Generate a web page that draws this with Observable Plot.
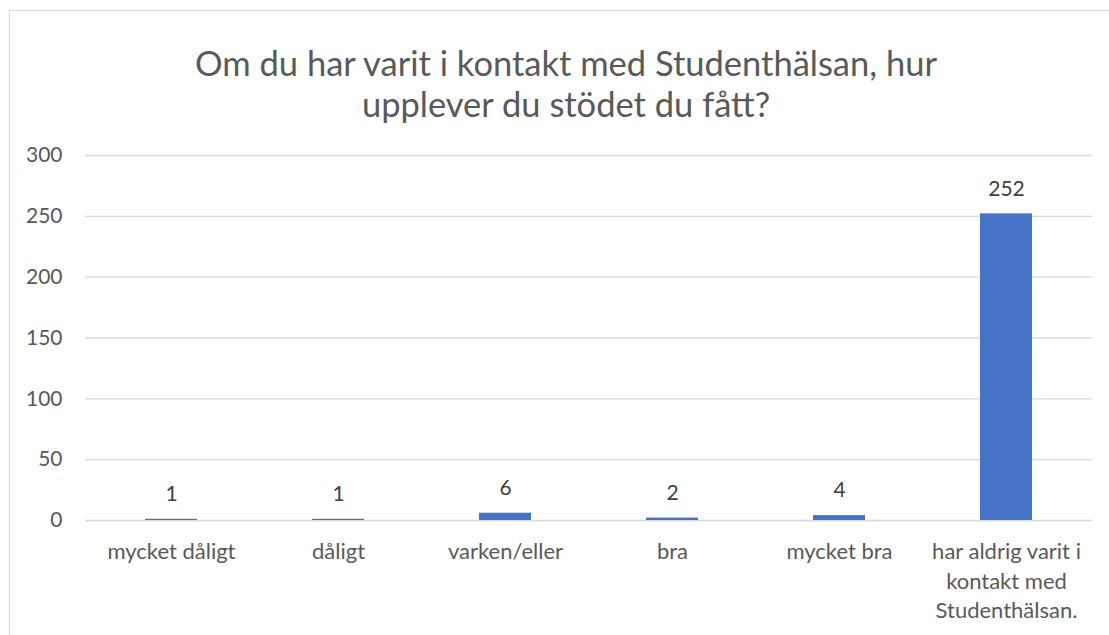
<!DOCTYPE html>
<html><head><meta charset="utf-8">
<script src="https://cdn.jsdelivr.net/npm/d3@7"></script>
<script src="https://cdn.jsdelivr.net/npm/@observablehq/plot@0.6"></script>
<style>
body{margin:0;background:#fff;font-family:Lato,"Open Sans",sans-serif;overflow:hidden;width:1109px;height:635px;position:relative;}
#frame{position:absolute;left:9px;top:10px;width:1200px;height:700px;border-left:1.5px solid #d9d9d9;border-top:1.5px solid #d9d9d9;}
#title{position:absolute;left:0;top:42px;width:1132px;text-align:center;color:#595959;font-size:34.5px;line-height:41px;}
#chart{position:absolute;left:0;top:130px;}
</style></head>
<body>
<div id="frame"></div>
<div id="title">Om du har varit i kontakt med Studenthälsan, hur<br>upplever du stödet du fått?</div>
<div id="chart"></div>
<script>
const categories = ["mycket dåligt","dåligt","varken/eller","bra","mycket bra","har aldrig varit i kontakt med Studenthälsan."];
const tickLabels = ["mycket dåligt","dåligt","varken/eller","bra","mycket bra","har aldrig varit i\nkontakt med\nStudenthälsan."];
const counts = [1,1,6,2,4,252];
const yTicks = [0,50,100,150,200,250,300];
const data = categories.map((c,i)=>({category:c,count:counts[i]}));
const chart = Plot.plot({
  width:1109, height:500, marginLeft:85, marginRight:17, marginTop:25, marginBottom:110,
  style:{fontFamily:"Lato, 'Open Sans', sans-serif", fontSize:"21px", color:"#595959", background:"transparent", overflow:"visible"},
  x:{domain:categories, paddingInner:0.686, paddingOuter:0.343, label:null},
  y:{domain:[0,300], label:null},
  marks:[
    Plot.gridY(yTicks,{stroke:"#d9d9d9", strokeOpacity:1, strokeWidth:1.3}),
    Plot.barY(data,{x:"category",y:"count",fill:"#4472C4"}),
    Plot.text(data,{x:"category",y:"count",text:d=>String(d.count),dy:-25,fill:"#404040",fontSize:21}),
    Plot.axisY(yTicks,{tickSize:0,tickPadding:23,fill:"#595959",fontSize:21,label:null}),
    Plot.axisX({tickSize:0,tickPadding:18,fill:"#595959",fontSize:22,lineHeight:1.33,label:null,
      tickFormat:d=>tickLabels[categories.indexOf(d)]})
  ]
});
document.getElementById("chart").appendChild(chart);
</script>
</body></html>
